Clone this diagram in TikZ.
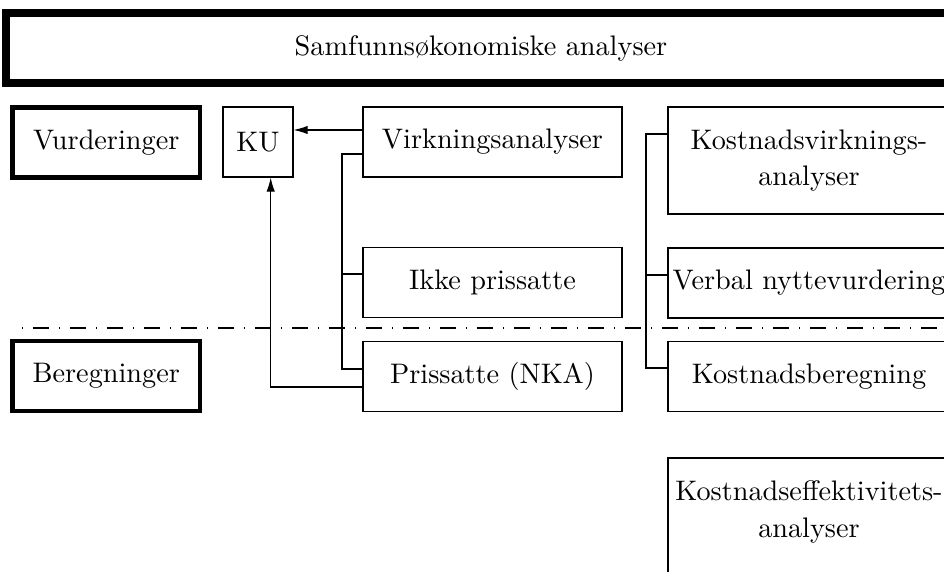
\documentclass[tikz,border=0pt]{standalone}
\usepackage{fontspec}
\usetikzlibrary{arrows.meta}
\begin{document}
\begin{tikzpicture}[x=0.354pt,y=-0.354pt,
  box/.style={draw, line width=0.4pt, inner sep=0pt, align=center},
  heavy/.style={draw, line width=1.6pt, inner sep=0pt, minimum width=66.4pt, minimum height=24.8pt},
  midbox/.style={box, minimum width=91.7pt, minimum height=24.8pt},
  rbox/.style={box, minimum width=99.8pt, minimum height=24.8pt},
  rtall/.style={box, minimum width=99.8pt, minimum height=37.9pt},
  link/.style={line width=0.4pt},
  arr/.style={link, -{Latex[length=5pt,width=3pt]}},
  sep/.style={line width=0.4pt, dash pattern=on 5.7pt off 3.5pt on 0.4pt off 3.5pt, dash phase=5.7pt}
]
\useasboundingbox (0,0) rectangle (944,572);
\begin{scope}
\clip (0,0) rectangle (944,572);
\node[draw, line width=2.8pt, minimum width=336pt, minimum height=24.8pt, inner sep=0pt] (top) at (481,48) {Samfunnsøkonomiske analyser};

\node[heavy] (vurd) at (106.25,142.5) {Vurderinger};
\node[heavy] (bereg) at (106.25,376) {Beregninger};

\node[box, minimum width=24.8pt, minimum height=24.8pt] (ku) at (258,142) {KU};

\node[midbox] (virk) at (492.5,142) {Virkningsanalyser};
\node[midbox] (ikke) at (492.5,282.5) {Ikke prissatte};
\node[midbox] (pris) at (492.5,376.3) {Prissatte (NKA)};

\node[rtall] (kvirk) at (809,160.5) {Kostnadsvirknings-\\[1pt]analyser};
\node[rbox] (verbal) at (809,283) {Verbal nyttevurdering};
\node[rbox] (kber) at (809,376.5) {Kostnadsberegning};
\node[align=center, inner sep=0pt] (keff) at (809,512) {Kostnadseffektivitets-\\[1pt]analyser};
\draw[line width=0.4pt] (668,650) rectangle (950,458);

\draw[sep] (12,328) -- (944,328);

\draw[arr] (virk.west |- 0,130) -- (ku.east |- 0,130);
\draw[link] (virk.west |- 0,154) -| (342,369) -- (pris.west |- 0,369);
\draw[link] (342,274) -- (ikke.west |- 0,274);
\draw[arr] (pris.west |- 0,387) -| (270.7,0 |- ku.south);

\draw[link] (kvirk.west |- 0,134) -| (646,368) -- (kber.west |- 0,368);
\draw[link] (646,275) -- (verbal.west |- 0,275);
\end{scope}
\end{tikzpicture}
\end{document}
